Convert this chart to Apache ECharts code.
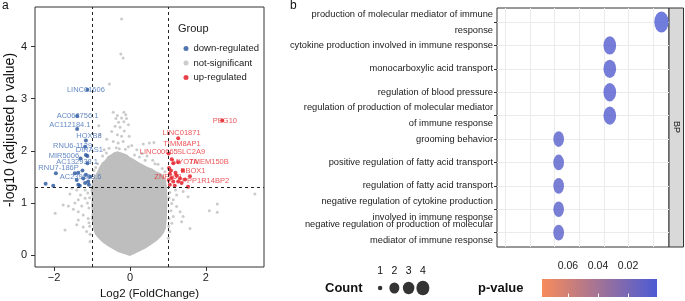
<!DOCTYPE html>
<html>
<head>
<meta charset="utf-8">
<title>volcano and GO dot plot</title>
<script src="https://cdn.jsdelivr.net/npm/echarts@6.0.0/dist/echarts.min.js"></script>
<style>
html, body { margin: 0; padding: 0; background: #fff; }
#main { width: 685px; height: 301px; }
</style>
</head>
<body>
<div id="main"></div>
<script>
// ---------- panel a : volcano ----------
// dense core of the not-significant cloud (outline)
var coreOutline = [
	[0.00, -0.02], [-0.32, 0.06], [-0.58, 0.17], [-0.72, 0.24], [-0.79, 0.29], [-0.88, 0.36],
	[-0.92, 0.40], [-0.97, 0.50], [-0.98, 0.58], [-1.02, 0.70], [-1.00, 0.82], [-1.02, 0.96],
	[-1.00, 1.10], [-1.04, 1.25], [-0.98, 1.44], [-0.93, 1.52], [-0.87, 1.59], [-0.80, 1.70],
	[-0.74, 1.77], [-0.66, 1.82], [-0.58, 1.90], [-0.50, 1.93], [-0.42, 1.97], [-0.33, 1.99],
	[-0.24, 1.97], [-0.15, 1.95], [-0.08, 1.93], [0.00, 1.88], [0.08, 1.85], [0.17, 1.81],
	[0.26, 1.77], [0.37, 1.73], [0.47, 1.69], [0.58, 1.66], [0.69, 1.61], [0.79, 1.58],
	[0.87, 1.54], [0.95, 1.44], [0.98, 1.25], [0.99, 1.05], [0.98, 0.86], [0.97, 0.68],
	[0.95, 0.52], [0.90, 0.43], [0.82, 0.35], [0.70, 0.27], [0.55, 0.19], [0.42, 0.13],
	[0.29, 0.08], [0.14, 0.03]
];
var nsPoints = [
	[-0.22, 4.53], [-0.24, 3.86], [-0.18, 3.78], [-0.54, 3.28],
	[-0.44, 2.74], [-0.33, 2.68], [-0.16, 2.74], [-0.11, 2.69], [-0.37, 2.62], [-0.22, 2.63],
	[-0.09, 2.62], [-0.30, 2.55], [-0.16, 2.56], [-0.04, 2.50], [-0.39, 2.47], [-0.26, 2.45],
	[-0.48, 2.37], [-0.15, 2.38], [-0.33, 2.31], [-0.22, 2.28], [-0.02, 2.28], [-0.82, 2.48],
	[-0.79, 2.31], [-0.61, 2.22], [-0.44, 2.18], [-0.31, 2.15], [-0.18, 2.18], [-0.04, 2.08],
	[0.35, 2.13], [0.51, 2.15], [0.63, 2.16],
	[-0.55, 2.05], [-0.68, 2.02], [-0.36, 2.06], [-0.12, 2.03], [0.05, 2.10], [0.18, 2.02],
	[0.32, 1.95], [0.45, 1.90], [0.60, 1.82], [0.74, 1.74], [0.85, 1.66], [-0.85, 1.75],
	[-0.95, 1.62], [-0.72, 1.90], [0.12, 1.92], [0.25, 1.88], [0.92, 1.60], [0.66, 1.75],
	[-0.62, 1.96], [-0.90, 1.68], [0.40, 1.82], [-0.28, 2.04],
	[-1.58, 1.17], [-1.76, 0.96], [-1.62, 0.94], [-1.97, 0.80], [-1.49, 0.88], [-1.36, 0.83],
	[-1.27, 0.94], [-1.18, 1.09], [-1.36, 1.06], [-1.23, 0.77], [-1.36, 0.67], [-1.40, 0.58],
	[-1.71, 0.48], [-1.23, 0.54], [-1.14, 0.45], [-1.05, 0.26], [-1.18, 1.25], [-1.11, 1.19],
	[-1.40, 1.25], [-1.53, 1.28], [-1.10, 0.70], [-1.08, 0.90], [-1.12, 1.00], [-1.06, 0.55],
	[-1.30, 1.15], [-1.45, 1.00], [-1.06, 1.10], [-1.08, 0.62], [-1.05, 0.40],
	[3.29, 1.17], [2.30, 0.98], [2.09, 0.85], [2.30, 0.82], [1.58, 0.51], [1.40, 0.74],
	[1.36, 0.64], [1.32, 0.83], [1.23, 0.93], [1.14, 1.06], [1.53, 1.12], [1.40, 1.22],
	[1.23, 1.15], [1.10, 0.99], [1.14, 0.74], [1.10, 0.61], [1.05, 0.45], [1.01, 0.32],
	[1.05, 1.20], [1.08, 0.85], [1.03, 0.70], [1.20, 1.25], [1.03, 1.10], [1.02, 0.55]
];
var downPoints = [
	[-1.12, 3.17], [-1.39, 2.67], [-1.39, 2.42], [-1.16, 2.20], [-1.18, 2.08], [-1.16, 1.92],
	[-1.12, 1.90], [-1.12, 1.76], [-1.95, 1.57], [-1.45, 1.57], [-1.36, 1.58], [-1.40, 1.44],
	[-1.36, 1.35], [-1.32, 1.33], [-1.18, 1.38], [-1.10, 1.41], [-1.08, 1.35], [-2.22, 1.37],
	[-2.02, 1.33], [-1.23, 1.47], [-1.16, 1.54], [-1.30, 1.85], [-1.05, 1.50], [-1.25, 1.62]
];
var upPoints = [
	[2.43, 2.58], [1.27, 2.24], [1.10, 1.84], [1.14, 1.76], [1.27, 1.78], [1.39, 1.62],
	[1.03, 1.67], [1.05, 1.56], [1.23, 1.52], [1.32, 1.47], [1.58, 1.51], [1.02, 1.44],
	[1.14, 1.41], [1.27, 1.41], [1.36, 1.38], [1.53, 1.31], [1.05, 1.35], [1.18, 1.33],
	[1.08, 1.62], [1.20, 1.58], [1.45, 1.45], [1.10, 1.48], [1.02, 1.95]
];
// gene labels: name, where the label sits (data units), group
var geneLabels = ["LINC01606", "AC068756.1", "AC112184.1", "HOXB8", "RNU6-1129", "DIRAS1",
	"MIR5006", "AC132938.1", "RNU7-186P", "AC239868.6",
	"PEG10", "LINC01871", "TIMM8AP1", "LINC00665", "SLC2A9", "MYO7A", "TMEM150B", "BBOX1",
	"ZNF469", "PPP1R14BP2"];
var geneLabelPos = [[-1.16, 3.17], [-1.38, 2.67], [-1.58, 2.50], [-1.08, 2.29], [-1.51, 2.10],
	[-1.07, 2.02], [-1.74, 1.91], [-1.39, 1.79], [-1.88, 1.67], [-1.30, 1.50],
	[2.50, 2.58], [1.36, 2.35], [1.37, 2.13], [0.76, 1.97], [1.61, 1.97], [1.45, 1.79],
	[2.08, 1.78], [1.66, 1.62], [1.00, 1.49], [1.99, 1.42]];
var geneLabelGroup = ["down", "down", "down", "down", "down", "down", "down", "down", "down", "down",
	"up", "up", "up", "up", "up", "up", "up", "up", "up", "up"];
var volcanoXTicks = [-2, 0, 2];
var volcanoYTicks = [0, 1, 2, 3, 4];
var fcCut = 1;
var pCut = 1.301;

// ---------- panel b : GO dot plot ----------
var goTerms = [
	"production of molecular mediator of immune\nresponse",
	"cytokine production involved in immune response",
	"monocarboxylic acid transport",
	"regulation of blood pressure",
	"regulation of production of molecular mediator\nof immune response",
	"grooming behavior",
	"positive regulation of fatty acid transport",
	"regulation of fatty acid transport",
	"negative regulation of cytokine production\ninvolved in immune response",
	"negative regulation of production of molecular\nmediator of immune response"
];
var goRatio = [0.0417, 0.0312, 0.0312, 0.0312, 0.0312, 0.0208, 0.0208, 0.0208, 0.0208, 0.0208];
var goCount = [4, 3, 3, 3, 3, 2, 2, 2, 2, 2];
var goPval = [0.0015, 0.0045, 0.0045, 0.0045, 0.0045, 0.0065, 0.0065, 0.0065, 0.0065, 0.0065];
var ratioGrid = [0.01, 0.015, 0.02, 0.025, 0.03, 0.035, 0.04];
var countLegend = [1, 2, 3, 4];
var pLegendTicks = [0.02, 0.04, 0.06];

// dot sizes [w, h] by count (the figure is stretched vertically)
var dotSize = { 1: [4.5, 6.5], 2: [10.7, 15.7], 3: [12.7, 18.3], 4: [14.3, 21] };
var legendDot = { 1: [4.5, 4.5], 2: [10, 11], 3: [11.5, 12.5], 4: [13, 14.5] };

var FONT = "'Liberation Sans', Arial, sans-serif";
var BLUE_PT = '#24539b', RED_PT = '#e3121b', GREY_PT = '#bebebe';
var RATIO_MIN = 0.00826, RATIO_MAX = 0.04324;

function minusFmt(v) {
	return String(v).replace('-', '\u2212');
}

var labelData = [];
for (var i = 0; i < geneLabels.length; i++) {
	labelData.push({
		name: geneLabels[i],
		value: geneLabelPos[i],
		label: { color: geneLabelGroup[i] == "down" ? '#3f6cb4' : '#e62a2f' }
	});
}

var goData = [];
for (var i = 0; i < goTerms.length; i++) {
	goData.push([goRatio[i], i, goPval[i], goCount[i]]);
}
var countData = [];
for (var i = 0; i < countLegend.length; i++) {
	countData.push([String(countLegend[i]), 0, countLegend[i]]);
}

var chart = echarts.init(document.getElementById('main'));
var option = {
	animation: false,
	textStyle: { fontFamily: FONT },
	grid: [
		// 0 volcano
		{ left: 35, top: 7, width: 229, height: 260, show: true, borderColor: '#333', borderWidth: 1, outerBoundsMode: 'none' },
		// 1 dot plot frame (border + vertical grid lines)
		{ left: 497, top: 8, width: 172, height: 239, show: true, borderColor: '#333', borderWidth: 1, outerBoundsMode: 'none' },
		// 2 dot plot rows (ggplot keeps 0.6 of a row free at both ends)
		{ left: 497, top: 22.04, width: 172, height: 210.6, outerBoundsMode: 'none' },
		// 3 p-value colour bar
		{ left: 542, top: 279, width: 115, height: 18, show: true, borderWidth: 0, outerBoundsMode: 'none',
			backgroundColor: { type: 'linear', x: 0, y: 0, x2: 1, y2: 0,
				colorStops: [{ offset: 0, color: '#f78b5b' }, { offset: 1, color: '#4b5bd4' }] } },
		// 4 count legend
		{ left: 373, top: 280, width: 57, height: 16, outerBoundsMode: 'none' }
	],
	xAxis: [{
		gridIndex: 0, type: 'value', min: -2.5, max: 3.53,
		axisLine: { show: false, onZero: false },
		axisTick: { show: true, length: 4, customValues: volcanoXTicks, lineStyle: { color: '#333' } },
		axisLabel: { customValues: volcanoXTicks, formatter: minusFmt, fontSize: 11, color: '#222', margin: 5,
			showMinLabel: true, showMaxLabel: true },
		splitLine: { show: false },
		name: 'Log2 (FoldChange)', nameLocation: 'middle', nameGap: 17,
		nameTextStyle: { fontSize: 11.5, color: '#111' }
	}, {
		gridIndex: 1, type: 'value', min: RATIO_MIN, max: RATIO_MAX,
		axisLine: { show: false, onZero: false },
		axisTick: { show: false, customValues: ratioGrid },
		axisLabel: { show: false, customValues: ratioGrid },
		splitLine: { show: true, lineStyle: { color: '#ebebeb', width: 1 } }
	}, {
		gridIndex: 2, type: 'value', min: RATIO_MIN, max: RATIO_MAX, show: false
	}, {
		// colour bar, labels on top
		gridIndex: 3, type: 'value', min: 0.0007, max: 0.0773, inverse: true, position: 'top',
		axisLine: { show: false },
		axisTick: { show: true, inside: true, length: 3.5, customValues: pLegendTicks, lineStyle: { color: '#fff' } },
		axisLabel: { customValues: pLegendTicks, fontSize: 10.5, color: '#222', margin: 7,
			showMinLabel: true, showMaxLabel: true },
		splitLine: { show: false }
	}, {
		gridIndex: 3, type: 'value', min: 0.0007, max: 0.0773, inverse: true, position: 'bottom',
		axisLine: { show: false },
		axisTick: { show: true, inside: true, length: 3.5, customValues: pLegendTicks, lineStyle: { color: '#fff' } },
		axisLabel: { show: false },
		splitLine: { show: false }
	}, {
		gridIndex: 4, type: 'category', position: 'top', data: countLegend.map(String),
		axisLine: { show: false }, axisTick: { show: false },
		axisLabel: { fontSize: 10.5, color: '#111', margin: 3, interval: 0 }
	}],
	yAxis: [{
		gridIndex: 0, type: 'value', min: -0.23, max: 4.76,
		axisLine: { show: false, onZero: false },
		axisTick: { show: true, length: 4, customValues: volcanoYTicks, lineStyle: { color: '#333' } },
		axisLabel: { customValues: volcanoYTicks, fontSize: 11, color: '#222', margin: 8,
			showMinLabel: true, showMaxLabel: true },
		splitLine: { show: false },
		name: '-log10 (adjusted p value)', nameLocation: 'middle', nameGap: 17,
		nameTextStyle: { fontSize: 14, color: '#111', padding: [0, 0, 0, 14] }
	}, {
		gridIndex: 1, type: 'value', min: 0, max: 1, show: false
	}, {
		gridIndex: 2, type: 'category', data: goTerms, inverse: true, boundaryGap: false,
		axisLine: { show: false, onZero: false },
		axisTick: { show: true, length: 3, interval: 0, lineStyle: { color: '#333' } },
		axisLabel: { interval: 0, fontSize: 9.3, lineHeight: 16, color: '#1a1a1a', margin: 4, align: 'right' },
		splitLine: { show: true, interval: 0, lineStyle: { color: '#ebebeb', width: 1 } }
	}, {
		gridIndex: 3, type: 'value', min: 0, max: 1, show: false
	}, {
		gridIndex: 4, type: 'value', min: -1, max: 1, show: false
	}],
	legend: {
		data: ['down-regulated', 'not-significant', 'up-regulated'],
		orient: 'vertical', left: 183.5, top: 43.5, padding: 0, itemGap: 4.5,
		itemWidth: 5, itemHeight: 5, icon: 'circle',
		textStyle: { fontSize: 9.5, color: '#1a1a1a' }
	},
	visualMap: {
		show: false, seriesIndex: 5, dimension: 2, min: 0.0007, max: 0.0773,
		inRange: { color: ['#4b5bd4', '#f78b5b'] }
	},
	graphic: [
		{ type: 'text', x: 2, y: 6, style: { text: 'a', fontSize: 12, fill: '#111', verticalAlign: 'middle', fontFamily: FONT } },
		{ type: 'text', x: 290, y: 6, style: { text: 'b', fontSize: 12, fill: '#111', verticalAlign: 'middle', fontFamily: FONT } },
		{ type: 'text', x: 178, y: 29, style: { text: 'Group', fontSize: 11, fill: '#1a1a1a', verticalAlign: 'middle', fontFamily: FONT } },
		{ type: 'text', x: 325, y: 288, style: { text: 'Count', fontSize: 13, fontWeight: 'bold', fill: '#111', verticalAlign: 'middle', fontFamily: FONT } },
		{ type: 'text', x: 478, y: 288, style: { text: 'p-value', fontSize: 13, fontWeight: 'bold', fill: '#111', verticalAlign: 'middle', fontFamily: FONT } },
		{ type: 'rect', shape: { x: 669, y: 8, width: 14.5, height: 239 }, style: { fill: '#d9d9d9', stroke: '#333', lineWidth: 1 } },
		{ type: 'text', x: 676.5, y: 127, rotation: -Math.PI / 2,
			style: { text: 'BP', fontSize: 9, fill: '#1a1a1a', align: 'center', verticalAlign: 'middle', fontFamily: FONT } }
	],
	series: [{
		// dense core of the grey cloud
		name: 'core', type: 'custom', xAxisIndex: 0, yAxisIndex: 0, z: 1, silent: true,
		data: coreOutline,
		renderItem: function(params, api) {
			if(params.dataIndex != 0) return null;
			var pts = [];
			for(var k = 0; k < coreOutline.length; k++) pts.push(api.coord(coreOutline[k]));
			return { type: 'polygon', shape: { points: pts }, style: { fill: GREY_PT } };
		}
	}, {
		name: 'not-significant', type: 'scatter', xAxisIndex: 0, yAxisIndex: 0, z: 2,
		data: nsPoints, symbolSize: 3, itemStyle: { color: GREY_PT },
		markLine: {
			silent: true, symbol: ['none', 'none'], label: { show: false },
			lineStyle: { type: [3, 3], color: '#222', width: 1 },
			data: [{ xAxis: -fcCut }, { xAxis: fcCut }, { yAxis: pCut }]
		}
	}, {
		name: 'down-regulated', type: 'scatter', xAxisIndex: 0, yAxisIndex: 0, z: 3,
		data: downPoints, symbolSize: 4, itemStyle: { color: BLUE_PT }
	}, {
		name: 'up-regulated', type: 'scatter', xAxisIndex: 0, yAxisIndex: 0, z: 3,
		data: upPoints, symbolSize: 4, itemStyle: { color: RED_PT }
	}, {
		name: 'gene labels', type: 'scatter', xAxisIndex: 0, yAxisIndex: 0, z: 4, silent: true,
		data: labelData, symbolSize: 0.1, itemStyle: { color: 'rgba(0,0,0,0)' },
		label: { show: true, position: 'inside', formatter: '{b}', fontSize: 7.5 }
	}, {
		name: 'GO', type: 'scatter', xAxisIndex: 2, yAxisIndex: 2, z: 3,
		data: goData,
		symbolSize: function(v) { return dotSize[v[3]]; }
	}, {
		name: 'count legend', type: 'scatter', xAxisIndex: 5, yAxisIndex: 4,
		data: countData, itemStyle: { color: '#000' },
		symbolSize: function(v) { return legendDot[v[2]]; }
	}]
};
chart.setOption(option);
</script>
</body>
</html>
